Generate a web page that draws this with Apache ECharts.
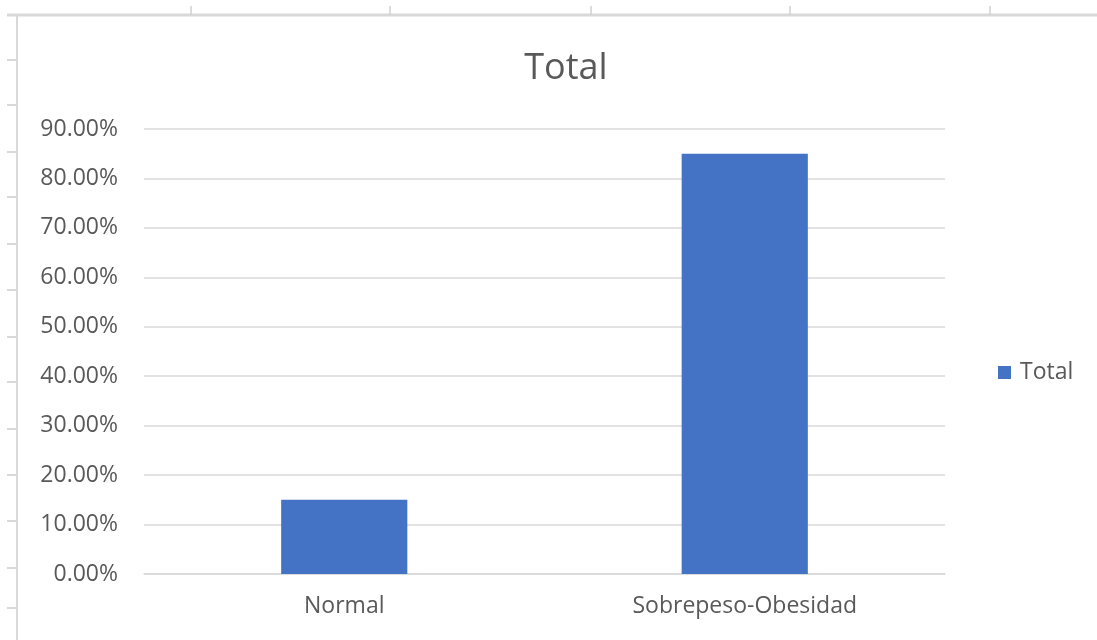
<!DOCTYPE html>
<html>
<head>
<meta charset="utf-8">
<script src="https://cdn.jsdelivr.net/npm/echarts@6/dist/echarts.min.js"></script>
<style>html,body{margin:0;padding:0;background:#fff}#c{width:1097px;height:640px}</style>
</head>
<body>
<div id="c"></div>
<script>
var categories = ['Normal', 'Sobrepeso-Obesidad'];
var totalValues = [0.15, 0.85];
var seriesName = 'Total';
var yMin = 0, yMax = 0.9, yStep = 0.1;

var FONT = 'Open Sans';
var chart = echarts.init(document.getElementById('c'), null, {renderer: 'canvas'});

var deco = [];
// spreadsheet frame
deco.push({type:'line', shape:{x1:7,y1:15,x2:1097,y2:15}, style:{stroke:'#d9d9d9', lineWidth:3}, silent:true});
deco.push({type:'line', shape:{x1:17,y1:15,x2:17,y2:640}, style:{stroke:'#d9d9d9', lineWidth:2}, silent:true});
[191,390,591,790,990].forEach(function(x){
  deco.push({type:'line', shape:{x1:x,y1:6,x2:x,y2:15}, style:{stroke:'#d0d0d0', lineWidth:1.5}, silent:true});
});
[60,105,152,197,244,290,337,382,429,475,521,568,608].forEach(function(y){
  deco.push({type:'line', shape:{x1:7,y1:y,x2:17,y2:y}, style:{stroke:'#d9d9d9', lineWidth:2}, silent:true});
});

chart.setOption({
  animation:false,
  backgroundColor:'#fff',
  title:{text:'Total', left:561, top:46, textAlign:'center',
    textStyle:{fontFamily:FONT, fontSize:36, fontWeight:'normal', color:'#595959'}},
  legend:{orient:'vertical', left:993, top:356, itemWidth:13, itemHeight:13, itemGap:8,
    icon:'rect',
    textStyle:{fontFamily:FONT, fontSize:23, color:'#595959', padding:[0,0,0,4]},
    data:[seriesName]},
  grid:{left:144, right:152, top:129, bottom:66, containLabel:false},
  xAxis:{type:'category', data:categories,
    axisLine:{show:true, lineStyle:{color:'#d9d9d9', width:1.5}},
    axisTick:{show:false},
    axisLabel:{fontFamily:FONT, fontSize:23, color:'#595959', margin:21}},
  yAxis:{type:'value', min:yMin, max:yMax, interval:yStep,
    axisLine:{show:false}, axisTick:{show:false},
    splitLine:{lineStyle:{color:'#d9d9d9', width:1.5}},
    axisLabel:{fontFamily:FONT, fontSize:23, color:'#595959', margin:26,
      formatter:function(v){return (v*100).toFixed(2)+'%';}}},
  series:[{name:seriesName, type:'bar', data:totalValues, barWidth:'31.5%',
    itemStyle:{color:'#4472C4'}}],
  graphic:deco
});
</script>
</body>
</html>
